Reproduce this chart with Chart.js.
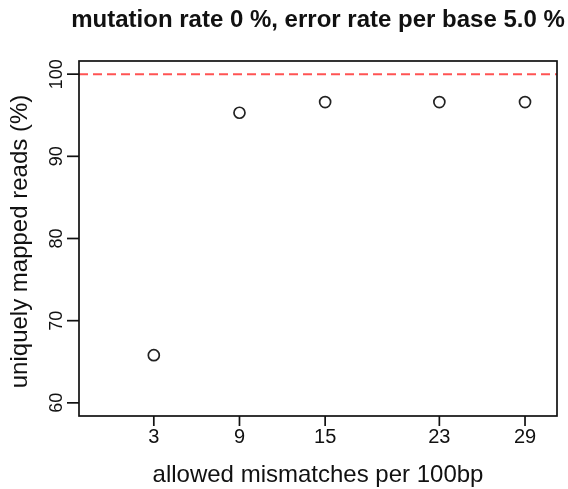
<!DOCTYPE html>
<html>
<head>
<meta charset="utf-8">
<script src="https://cdn.jsdelivr.net/npm/chart.js@4"></script>
<style>
  html, body { margin: 0; padding: 0; background: #fff; }
  canvas { display: block; }
</style>
</head>
<body>
<canvas id="mismatchChart" width="568" height="489"></canvas>
<script>
// data
const mismatches = [3, 9, 15, 23, 29]
const uniquelyMapped = [65.8, 95.3, 96.6, 96.6, 96.6]
const xTickLabels = ['3', '9', '15', '23', '29']
const yTickValues = [60, 70, 80, 90, 100]
const referenceLevel = 100

const titleText = 'mutation rate 0 %, error rate per base 5.0 %'
const xTitleText = 'allowed mismatches per 100bp'
const yTitleText = 'uniquely mapped reads (%)'

const FONT = '"Liberation Sans", Arial, Helvetica, sans-serif'

// R-style frame, ticks and labels drawn through the chart's scales
const rAxes = {
  id: 'rAxes',
  beforeDraw: (chart) => {
    const ctx = chart.ctx
    ctx.save()
    ctx.fillStyle = '#fff'
    ctx.fillRect(0, 0, chart.width, chart.height)
    ctx.restore()
  },
  beforeDatasetsDraw: (chart) => {
    const ctx = chart.ctx
    const area = chart.chartArea
    const y = chart.scales.y.getPixelForValue(referenceLevel)
    ctx.save()
    ctx.strokeStyle = 'rgba(255, 40, 40, 0.8)'
    ctx.lineWidth = 2
    ctx.setLineDash([9, 5])
    ctx.beginPath()
    ctx.moveTo(area.left, y)
    ctx.lineTo(area.right, y)
    ctx.stroke()
    ctx.restore()
  },
  afterDraw: (chart) => {
    const ctx = chart.ctx
    const area = chart.chartArea
    const xs = chart.scales.x
    const ys = chart.scales.y
    const tick = 10

    ctx.save()
    ctx.strokeStyle = '#111'
    ctx.fillStyle = '#111'
    ctx.lineWidth = 1.7

    // box
    ctx.strokeRect(area.left, area.top, area.right - area.left, area.bottom - area.top)

    // x axis ticks + labels
    ctx.font = `20px ${FONT}`
    ctx.textAlign = 'center'
    ctx.textBaseline = 'alphabetic'
    mismatches.forEach((v, i) => {
      const px = xs.getPixelForValue(v)
      ctx.beginPath()
      ctx.moveTo(px, area.bottom)
      ctx.lineTo(px, area.bottom + tick)
      ctx.stroke()
      ctx.fillText(xTickLabels[i], px, area.bottom + 27)
    })

    // y axis ticks + rotated labels
    yTickValues.forEach((v) => {
      const py = ys.getPixelForValue(v)
      ctx.beginPath()
      ctx.moveTo(area.left, py)
      ctx.lineTo(area.left - tick - 2, py)
      ctx.stroke()
      ctx.save()
      ctx.translate(area.left - 17, py)
      ctx.rotate(-Math.PI / 2)
      ctx.font = `18px ${FONT}`
      ctx.textAlign = 'center'
      ctx.textBaseline = 'alphabetic'
      ctx.fillText(String(v), 0, 0)
      ctx.restore()
    })

    const midX = (area.left + area.right) / 2
    const midY = (area.top + area.bottom) / 2

    // titles
    ctx.font = `bold 24px ${FONT}`
    ctx.textAlign = 'center'
    ctx.fillText(titleText, midX, 27)

    ctx.font = `24px ${FONT}`
    ctx.fillText(xTitleText, midX, 482)

    ctx.save()
    ctx.translate(27, midY + 3)
    ctx.rotate(-Math.PI / 2)
    ctx.font = `24px ${FONT}`
    ctx.fillText(yTitleText, 0, 0)
    ctx.restore()

    ctx.restore()
  }
}

const init = () => {
  const ctx = document.querySelector('#mismatchChart')
  new Chart(ctx, {
    type: 'scatter',
    data: {
      datasets: [{
        label: 'uniquely mapped',
        data: mismatches.map((m, i) => ({ x: m, y: uniquelyMapped[i] })),
        pointStyle: 'circle',
        pointRadius: 5.5,
        borderWidth: 1.7,
        borderColor: '#222',
        backgroundColor: 'rgba(0,0,0,0)'
      }]
    },
    options: {
      responsive: false,
      animation: false,
      layout: {
        padding: { left: 79, top: 61, right: 11, bottom: 73 }
      },
      scales: {
        x: { type: 'linear', display: false, min: -2.24, max: 31.24 },
        y: { type: 'linear', display: false, min: 58.4, max: 101.6 }
      },
      plugins: {
        legend: { display: false },
        tooltip: { enabled: false }
      }
    },
    plugins: [rAxes]
  })
}

document.addEventListener('DOMContentLoaded', function() {
  init()
})
</script>
</body>
</html>
